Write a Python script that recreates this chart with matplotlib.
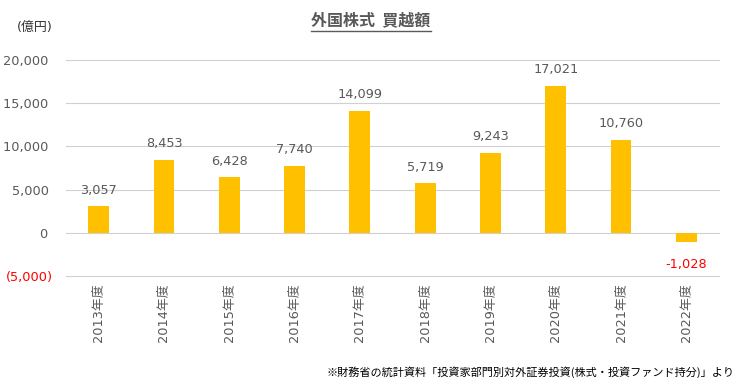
import matplotlib
matplotlib.use("Agg")
import matplotlib.pyplot as plt
from matplotlib.lines import Line2D
from matplotlib.ticker import FixedLocator

plt.rcParams['font.family'] = ['DejaVu Sans', 'Noto Sans CJK JP']

categories = ["2013年度", "2014年度", "2015年度", "2016年度", "2017年度",
              "2018年度", "2019年度", "2020年度", "2021年度", "2022年度"]
values = [3057, 8453, 6428, 7740, 14099, 5719, 9243, 17021, 10760, -1028]
yticks = [-5000, 0, 5000, 10000, 15000, 20000]
ytick_labels = ["(5,000)", "0 ", "5,000 ", "10,000 ", "15,000 ", "20,000 "]

gray = "#595959"
W, H = 742, 385
fig = plt.figure(figsize=(W / 100, H / 100), dpi=100)
ax = fig.add_axes([66 / W, 1 - 276 / H, (719 - 66) / W, (276 - 60) / H])

x = list(range(len(categories)))
ax.bar(x, values, width=0.32, color="#FFC000", zorder=3)
ax.set_xlim(-0.5, len(categories) - 0.5)
ax.set_ylim(-5000, 20000)
ax.yaxis.set_major_locator(FixedLocator(yticks))
ax.set_yticklabels(ytick_labels)
for lbl, v in zip(ax.get_yticklabels(), yticks):
    lbl.set_color("#FF0000" if v < 0 else gray)
    lbl.set_fontsize(9.3)
for v in yticks:
    ax.axhline(v, color="#D0D0D0", linewidth=0.8, zorder=0, clip_on=False)
ax.set_xticks(x)
ax.set_xticklabels(categories, rotation=90, fontsize=9.3, color=gray, va="top")
ax.tick_params(axis="both", length=0, pad=5)
ax.tick_params(axis="y", pad=9.5)
for s in ax.spines.values():
    s.set_visible(False)

for xi, v in zip(x, values):
    txt = f"{v:,}"
    if v >= 0:
        ax.annotate(txt, (xi, v), xytext=(0, 7), textcoords="offset points",
                    ha="center", va="bottom", fontsize=9.3, color=gray)
    else:
        ax.annotate(txt, (xi, v), xytext=(0, -12), textcoords="offset points",
                    ha="center", va="top", fontsize=9.3, color="#FF0000")

fig.text(35 / W, 1 - 27 / H, "(億円)", ha="center", va="center", fontsize=9.3, color="#333333")
t = fig.text(371 / W, 1 - 20 / H, "外国株式  買越額", ha="center", va="center",
             fontsize=11.5, color=gray, fontweight="bold", family=["Noto Sans CJK JP"])
fig.canvas.draw()
bb = t.get_window_extent(fig.canvas.get_renderer())
uy = (1 - 31 / H)
fig.add_artist(Line2D([bb.x0 / W, bb.x1 / W], [uy, uy], transform=fig.transFigure,
                      color=gray, linewidth=1))

fig.text(735 / W, 1 - 372 / H,
         "※財務省の統計資料「投資家部門別対外証券投資(株式・投資ファンド持分)」より",
         ha="right", va="center", fontsize=8, color="black", family=["Noto Sans CJK JP"])

fig.savefig("out.png", dpi=100)
